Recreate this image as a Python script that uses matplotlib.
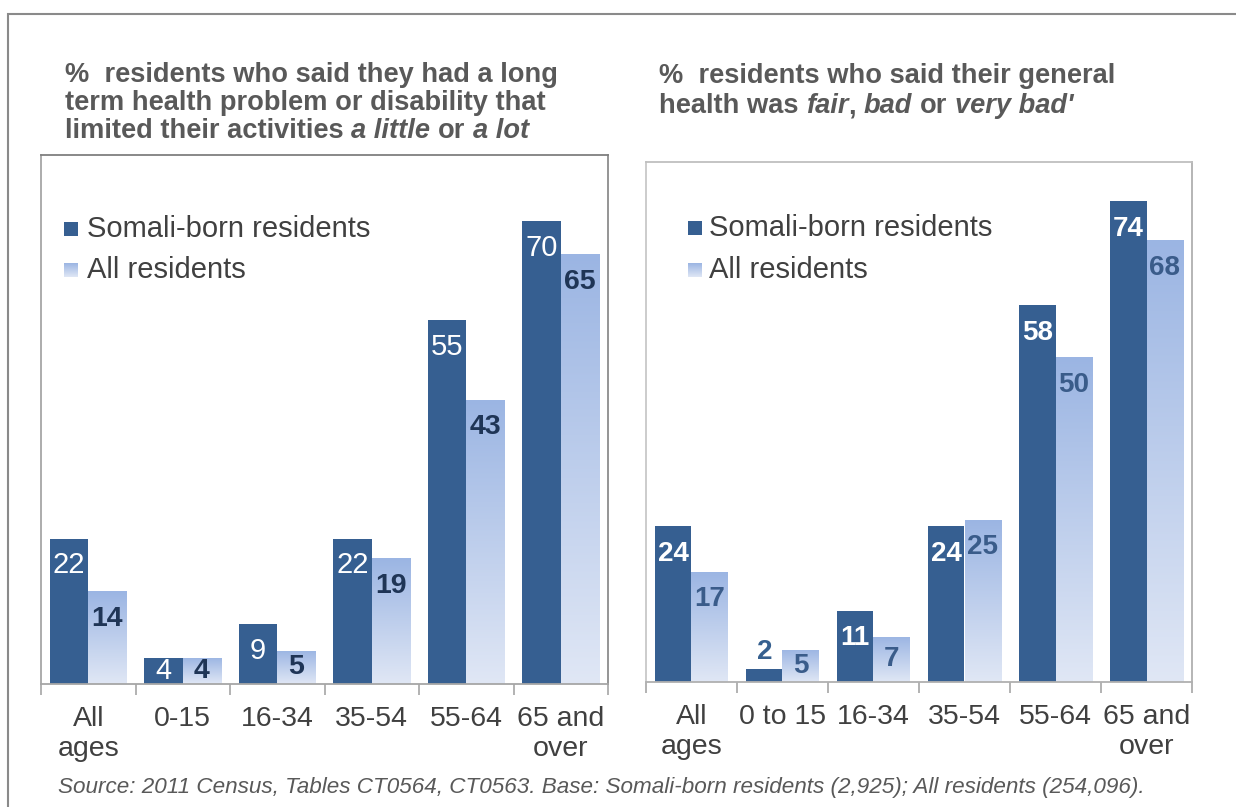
import numpy as np
import matplotlib
matplotlib.use('Agg')
import matplotlib.pyplot as plt
from matplotlib.patches import Rectangle
from matplotlib.colors import LinearSegmentedColormap

# ---------------- data ----------------
categories_left = ['All\nages', '0-15', '16-34', '35-54', '55-64', '65 and\nover']
categories_right = ['All\nages', '0 to 15', '16-34', '35-54', '55-64', '65 and\nover']
somali_limited = [22, 4, 9, 22, 55, 70]
all_limited = [14, 4, 5, 19, 43, 65]
somali_health = [24, 2, 11, 24, 58, 74]
all_health = [17, 5, 7, 25, 50, 68]
series_names = ['Somali-born residents', 'All residents']
source_text = ('Source: 2011 Census, Tables CT0564, CT0563. Base: Somali-born residents '
               '(2,925); All residents (254,096).')

# ---------------- style ----------------
W, H, DPI = 1236, 807, 100
DARK = '#365F91'
GRAD_TOP = '#9BB5E3'
GRAD_BOT = '#E0E7F5'
TXT = '#404040'
TITLE_C = '#595959'
plt.rcParams['font.family'] = ['Liberation Sans', 'DejaVu Sans']

fig = plt.figure(figsize=(W / DPI, H / DPI), dpi=DPI)
renderer = fig.canvas.get_renderer()
cmap = LinearSegmentedColormap.from_list('g', [GRAD_BOT, GRAD_TOP])
grad = np.linspace(1, 0, 256)[:, None]


def fx(x):
    return x / W


def fy(y):
    return 1 - y / H


def px_axes(x0, y0, x1, y1):
    return fig.add_axes([fx(x0), fy(y1), (x1 - x0) / W, (y1 - y0) / H])


# outer frame
fig.add_artist(Rectangle((fx(8), fy(H + 20)), (W + 40) / W, (H + 20 - 14) / H,
                         transform=fig.transFigure, fill=False,
                         edgecolor='#8a8a8a', linewidth=1.5))


def seg_line(x, y, segments, size, color):
    """Draw one line made of (text, style) segments, left to right."""
    def width(s, style):
        t = fig.text(0, 0, s, fontsize=size, fontweight='bold', fontstyle=style)
        w = t.get_window_extent(renderer=renderer).width
        t.remove()
        return w
    sp = width('a a', 'normal') - width('aa', 'normal')
    cx = x
    for txt, style in segments:
        lead = len(txt) - len(txt.lstrip(' '))
        trail = len(txt) - len(txt.rstrip(' '))
        core = txt.strip(' ')
        cx += lead * sp
        if core:
            fig.text(fx(cx), fy(y), core, fontsize=size, fontweight='bold',
                     fontstyle=style, color=color, ha='left', va='baseline')
            cx += width(core, style)
        cx += trail * sp


def panel(box, cats, s_vals, a_vals, width, s_lab, a_lab, spine_cols, tick_pad):
    ax = px_axes(*box)
    x = np.arange(len(cats))
    b1 = ax.bar(x - width / 2, s_vals, width, color=DARK, zorder=2, linewidth=0)
    b2 = ax.bar(x + width / 2, a_vals, width, color='none', zorder=2, linewidth=0)
    for bar in b2:
        x0, w, h = bar.get_x(), bar.get_width(), bar.get_height()
        im = ax.imshow(grad, extent=[x0, x0 + w, 0, h], aspect='auto', cmap=cmap,
                       origin='upper', zorder=2, vmin=0, vmax=1)
        im.set_clip_path(bar)
    ax.set_xlim(-0.5, len(cats) - 0.5)
    ax.set_ylim(0, 80)
    ax.set_yticks([])
    ax.set_xticks(x, cats)
    ax.set_xticks(np.arange(-0.5, len(cats), 1), minor=True)
    ax.tick_params(axis='x', which='major', length=0, pad=tick_pad,
                   labelsize=20.5, labelcolor=TXT)
    ax.tick_params(axis='x', which='minor', length=8, width=1.2,
                   color='#a6a6a6', direction='out')
    for side, c in spine_cols.items():
        ax.spines[side].set_color(c)
        ax.spines[side].set_linewidth(1.3)

    def label(bars, vals, style):
        for bar, v in zip(bars, vals):
            cxp = bar.get_x() + bar.get_width() / 2
            if v >= 8:
                ax.annotate(f'{v}', (cxp, v), xytext=(0, -25), textcoords='offset points',
                            ha='center', va='baseline', **style['in'])
            elif v >= 4:
                ax.annotate(f'{v}', (cxp, v / 2), ha='center', va='center', **style['in'])
            else:
                ax.annotate(f'{v}', (cxp, v), xytext=(0, 7), textcoords='offset points',
                            ha='center', va='baseline', **style['out'])
    label(b1, s_vals, s_lab)
    label(b2, a_vals, a_lab)
    return ax


# ---------------- left panel ----------------
left_s = {'in': dict(color='white', fontsize=21, fontweight='normal'),
          'out': dict(color='#203864', fontsize=21, fontweight='bold')}
left_a = {'in': dict(color='#1F3556', fontsize=20.5, fontweight='bold'),
          'out': dict(color='#1F3556', fontsize=20.5, fontweight='bold')}
panel((41, 155, 608, 684), categories_left, somali_limited, all_limited, 0.407,
      left_s, left_a,
      {'top': '#7f7f7f', 'right': '#8c8c8c', 'left': '#a6a6a6', 'bottom': '#a6a6a6'}, 16)

# ---------------- right panel ----------------
right_s = {'in': dict(color='white', fontsize=20, fontweight='bold'),
           'out': dict(color='#36608F', fontsize=20, fontweight='bold')}
right_a = {'in': dict(color='#3A5C8A', fontsize=20, fontweight='bold'),
           'out': dict(color='#3A5C8A', fontsize=20, fontweight='bold')}
panel((646, 162, 1192, 682), categories_right, somali_health, all_health, 0.40,
      right_s, right_a,
      {'top': '#bfbfbf', 'right': '#b0b0b0', 'left': '#c8c8c8', 'bottom': '#b0b0b0'}, 15.5)

# ---------------- titles ----------------
TS = 19.6
seg_line(65, 82, [('%  residents who said they had a long', 'normal')], TS, TITLE_C)
seg_line(65, 110, [('term health problem or disability that', 'normal')], TS, TITLE_C)
seg_line(65, 138, [('limited their activities ', 'normal'), ('a little', 'italic'),
                   (' or ', 'normal'), ('a lot', 'italic')], TS, TITLE_C)
seg_line(659, 83, [('%  residents who said their general', 'normal')], TS, TITLE_C)
seg_line(659, 113, [('health was ', 'normal'), ('fair', 'italic'), (', ', 'normal'),
                    ('bad', 'italic'), (' or ', 'normal'), ("very bad'", 'italic')], TS, TITLE_C)

# ---------------- legends ----------------
def legend(xsq, ytop, ybot, xtxt):
    sq = 14
    fig.add_artist(Rectangle((fx(xsq), fy(ytop + sq / 2)), sq / W, sq / H,
                             transform=fig.transFigure, facecolor=DARK, edgecolor='none'))
    gax = px_axes(xsq, ybot - sq / 2, xsq + sq, ybot + sq / 2)
    gax.imshow(grad, aspect='auto', cmap=cmap, vmin=0, vmax=1)
    gax.axis('off')
    fig.text(fx(xtxt), fy(ytop), series_names[0], fontsize=21, color=TXT, va='center', ha='left')
    fig.text(fx(xtxt), fy(ybot), series_names[1], fontsize=21, color=TXT, va='center', ha='left')


legend(64, 229, 270, 87)
legend(688, 228, 270, 709)

# ---------------- source ----------------
fig.text(fx(58), fy(787), source_text, fontsize=16.2, fontstyle='italic', color=TITLE_C,
         ha='left', va='center')

fig.savefig('out.png', dpi=DPI)
